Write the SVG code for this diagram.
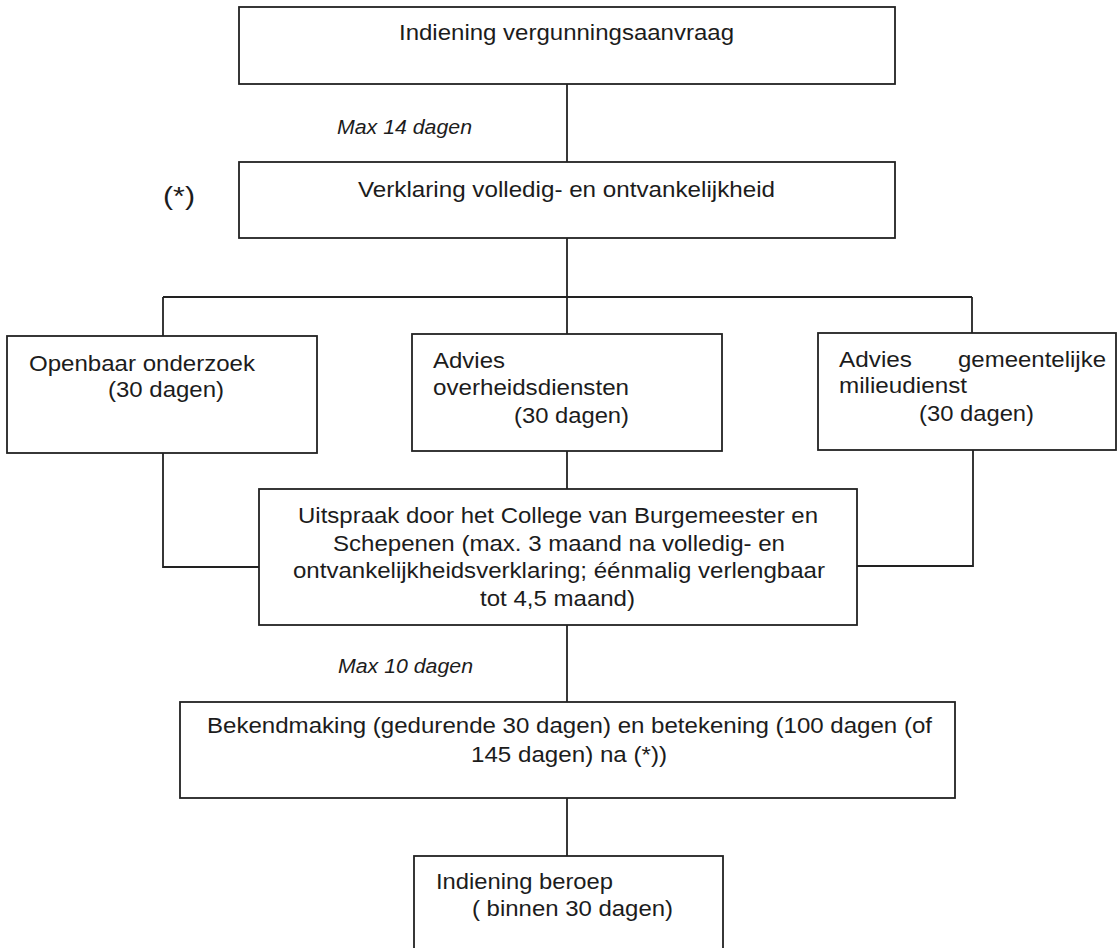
<svg xmlns="http://www.w3.org/2000/svg" width="1118" height="948" viewBox="0 0 1118 948">
<style>
.box{fill:#fff;stroke:#222;stroke-width:1.8}
.ln{fill:none;stroke:#222;stroke-width:1.8}
text{font-family:"Liberation Sans",Arial,sans-serif;font-size:22px;fill:#1c1c1c}
.it{font-style:italic;font-size:19.5px}
</style>
<rect width="1118" height="948" fill="#fff"/>
<g id="connectors">
<path class="ln" d="M567 84V162"/>
<path class="ln" d="M567 238V297"/>
<path class="ln" d="M163 297H972"/>
<path class="ln" d="M163 297V336"/>
<path class="ln" d="M567 297V334"/>
<path class="ln" d="M972 297V333"/>
<path class="ln" d="M163 453V567H259"/>
<path class="ln" d="M567 451V489"/>
<path class="ln" d="M973 450V566H857"/>
<path class="ln" d="M567 625V702"/>
<path class="ln" d="M567 798V856"/>
</g>
<g id="labels">
<text class="it" x="337" y="134" textLength="135" lengthAdjust="spacingAndGlyphs">Max 14 dagen</text>
<text style="font-size:26px" x="163" y="205" textLength="32" lengthAdjust="spacingAndGlyphs">(*)</text>
<text class="it" x="338" y="673" textLength="135" lengthAdjust="spacingAndGlyphs">Max 10 dagen</text>
</g>
<g id="n1">
<rect class="box" x="239" y="7" width="656" height="77"/>
<text x="399" y="40" textLength="335" lengthAdjust="spacingAndGlyphs">Indiening vergunningsaanvraag</text>
</g>
<g id="n2">
<rect class="box" x="239" y="162" width="656" height="76"/>
<text x="358" y="197" textLength="417" lengthAdjust="spacingAndGlyphs">Verklaring volledig- en ontvankelijkheid</text>
</g>
<g id="n3">
<rect class="box" x="7" y="336" width="310" height="117"/>
<text x="29" y="371" textLength="226" lengthAdjust="spacingAndGlyphs">Openbaar onderzoek</text>
<text x="108" y="397" textLength="116" lengthAdjust="spacingAndGlyphs">(30 dagen)</text>
</g>
<g id="n4">
<rect class="box" x="412" y="334" width="310" height="117"/>
<text x="433" y="368" textLength="72" lengthAdjust="spacingAndGlyphs">Advies</text>
<text x="433" y="395" textLength="196" lengthAdjust="spacingAndGlyphs">overheidsdiensten</text>
<text x="514" y="423" textLength="115" lengthAdjust="spacingAndGlyphs">(30 dagen)</text>
</g>
<g id="n5">
<rect class="box" x="818" y="333" width="298" height="117"/>
<text x="839" y="367" textLength="73" lengthAdjust="spacingAndGlyphs">Advies</text>
<text x="958" y="367" textLength="148" lengthAdjust="spacingAndGlyphs">gemeentelijke</text>
<text x="839" y="393" textLength="128" lengthAdjust="spacingAndGlyphs">milieudienst</text>
<text x="919" y="421" textLength="115" lengthAdjust="spacingAndGlyphs">(30 dagen)</text>
</g>
<g id="n6">
<rect class="box" x="259" y="489" width="598" height="136"/>
<text x="298" y="523" textLength="520" lengthAdjust="spacingAndGlyphs">Uitspraak door het College van Burgemeester en</text>
<text x="333" y="551" textLength="452" lengthAdjust="spacingAndGlyphs">Schepenen (max. 3 maand na volledig- en</text>
<text x="293" y="578" textLength="532" lengthAdjust="spacingAndGlyphs">ontvankelijkheidsverklaring; éénmalig verlengbaar</text>
<text x="480" y="606" textLength="155" lengthAdjust="spacingAndGlyphs">tot 4,5 maand)</text>
</g>
<g id="n7">
<rect class="box" x="180" y="702" width="775" height="96"/>
<text x="207" y="733" textLength="725" lengthAdjust="spacingAndGlyphs">Bekendmaking (gedurende 30 dagen) en betekening (100 dagen (of</text>
<text x="471" y="762" textLength="196" lengthAdjust="spacingAndGlyphs">145 dagen) na (*))</text>
</g>
<g id="n8">
<rect class="box" x="414" y="856" width="309" height="100"/>
<text x="436" y="889" textLength="177" lengthAdjust="spacingAndGlyphs">Indiening beroep</text>
<text x="472" y="916" textLength="201" lengthAdjust="spacingAndGlyphs">( binnen 30 dagen)</text>
</g>
</svg>
